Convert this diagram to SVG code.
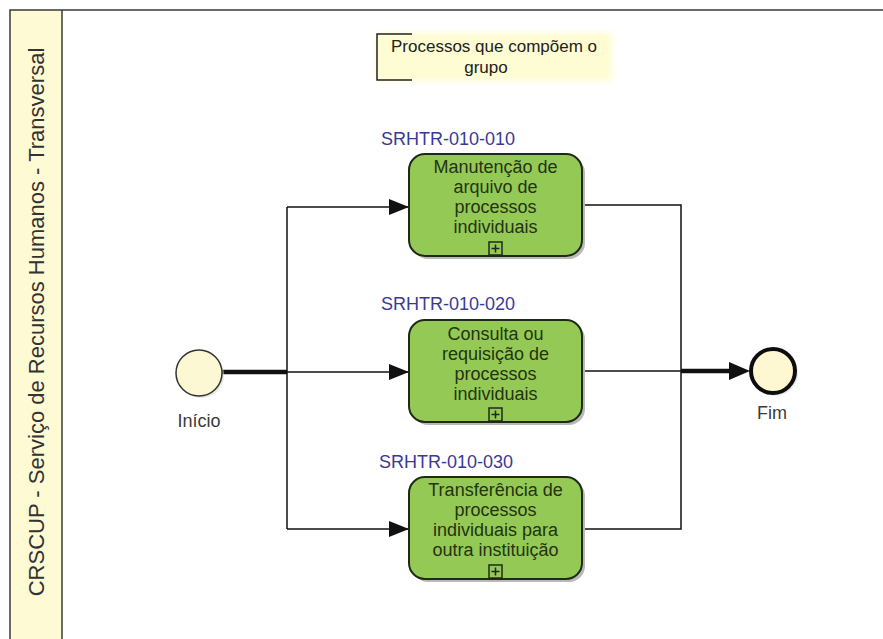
<svg xmlns="http://www.w3.org/2000/svg" width="883" height="639" viewBox="0 0 883 639">
  <style>
    .lane-line { stroke: #3a3a3a; stroke-width: 1.5; fill: none; }
    .txt { font-family: "Liberation Sans", Arial, sans-serif; }
    .task-box { fill: #94c955; stroke: #1f2a14; stroke-width: 2; }
    .task-shadow { fill: #b9b9b9; }
    .task-text { font-family: "Liberation Sans", Arial, sans-serif; font-size: 18px; fill: #243313; text-anchor: middle; }
    .code { font-family: "Liberation Sans", Arial, sans-serif; font-size: 18px; fill: #3a3a96; }
    .ev-label { font-family: "Liberation Sans", Arial, sans-serif; font-size: 18px; fill: #3a3a3a; text-anchor: middle; }
    .flow { stroke: #111; stroke-width: 1.5; fill: none; }
    .flow-heavy { stroke: #111; stroke-width: 4.5; fill: none; }
    .marker-box { fill: none; stroke: #1f2a14; stroke-width: 1.5; }
  </style>
  <defs>
    <marker id="arrow" viewBox="0 0 20 16" refX="20" refY="8" markerWidth="20" markerHeight="16" markerUnits="userSpaceOnUse" orient="auto">
      <path d="M0,0 L20,8 L0,16 Z" fill="#111"/>
    </marker>
    <filter id="soft" x="-10%" y="-30%" width="120%" height="160%">
      <feGaussianBlur stdDeviation="3"/>
    </filter>
  </defs>

  <rect width="883" height="639" fill="#ffffff"/>

  <!-- pool / lane frame -->
  <g id="lane">
    <rect x="10" y="10" width="52" height="629" fill="#fdfad4"/>
    <path class="lane-line" d="M10,639 V10 H883"/>
    <path class="lane-line" d="M62,10 V639"/>
    <text class="txt" font-size="22" fill="#333" text-anchor="middle" transform="translate(44,322) rotate(-90)">CRSCUP - Serviço de Recursos Humanos - Transversal</text>
  </g>

  <!-- text annotation -->
  <g id="annotation">
    <rect x="376" y="33" width="236" height="48" fill="#fefcd2" filter="url(#soft)"/>
    <path d="M412,34 H377 V80 H412" fill="none" stroke="#222" stroke-width="1.5"/>
    <text class="txt" font-size="17" fill="#222" x="494" y="52" text-anchor="middle">Processos que compõem o</text>
    <text class="txt" font-size="17" fill="#222" x="486" y="73" text-anchor="middle">grupo</text>
  </g>

  <!-- connectors -->
  <g id="connectors">
    <path class="flow-heavy" d="M222,372 H287"/>
    <path class="flow" d="M287,207 V529"/>
    <path class="flow" d="M287,207 H409" marker-end="url(#arrow)"/>
    <path class="flow" d="M287,372 H409" marker-end="url(#arrow)"/>
    <path class="flow" d="M287,529 H409" marker-end="url(#arrow)"/>
    <path class="flow" d="M582,205 H681 V529 H582"/>
    <path class="flow" d="M582,371 H681"/>
    <path class="flow-heavy" d="M681,371 H732"/>
    <path d="M729,362 L750,371 L729,380 Z" fill="#111"/>
  </g>

  <!-- start event -->
  <g id="start">
    <circle cx="201" cy="375" r="23" fill="#d8d8d8" opacity="0.6"/>
    <circle cx="199" cy="373" r="23" fill="#fcf8d4" stroke="#333" stroke-width="1.5"/>
    <text class="ev-label" x="199" y="427">Início</text>
  </g>

  <!-- end event -->
  <g id="end">
    <circle cx="775" cy="373" r="23" fill="#d8d8d8" opacity="0.6"/>
    <circle cx="773" cy="371" r="22" fill="#fdf8d2" stroke="#0d0d0d" stroke-width="4"/>
    <text class="ev-label" x="772" y="419">Fim</text>
  </g>

  <!-- sub-process 1 -->
  <g id="task1">
    <text class="code" x="381" y="145">SRHTR-010-010</text>
    <rect class="task-shadow" x="412" y="157" width="173" height="102" rx="16"/>
    <rect class="task-box" x="409" y="154" width="173" height="102" rx="16"/>
    <text class="task-text" x="495.5" y="173">Manutenção de</text>
    <text class="task-text" x="495.5" y="193">arquivo de</text>
    <text class="task-text" x="495.5" y="213">processos</text>
    <text class="task-text" x="495.5" y="233">individuais</text>
    <rect class="marker-box" x="489" y="242" width="13" height="13"/>
    <path class="marker-box" d="M495.5,244.5 V252.5 M491.5,248.5 H499.5"/>
  </g>

  <!-- sub-process 2 -->
  <g id="task2">
    <text class="code" x="381" y="310">SRHTR-010-020</text>
    <rect class="task-shadow" x="412" y="323" width="173" height="102" rx="16"/>
    <rect class="task-box" x="409" y="320" width="173" height="102" rx="16"/>
    <text class="task-text" x="495.5" y="340">Consulta ou</text>
    <text class="task-text" x="495.5" y="360">requisição de</text>
    <text class="task-text" x="495.5" y="380">processos</text>
    <text class="task-text" x="495.5" y="400">individuais</text>
    <rect class="marker-box" x="489" y="408" width="13" height="13"/>
    <path class="marker-box" d="M495.5,410.5 V418.5 M491.5,414.5 H499.5"/>
  </g>

  <!-- sub-process 3 -->
  <g id="task3">
    <text class="code" x="379" y="468">SRHTR-010-030</text>
    <rect class="task-shadow" x="412" y="480" width="173" height="102" rx="16"/>
    <rect class="task-box" x="409" y="477" width="173" height="102" rx="16"/>
    <text class="task-text" x="495.5" y="496">Transferência de</text>
    <text class="task-text" x="495.5" y="516">processos</text>
    <text class="task-text" x="495.5" y="536">individuais para</text>
    <text class="task-text" x="495.5" y="556">outra instituição</text>
    <rect class="marker-box" x="489" y="565" width="13" height="13"/>
    <path class="marker-box" d="M495.5,567.5 V575.5 M491.5,571.5 H499.5"/>
  </g>
</svg>
